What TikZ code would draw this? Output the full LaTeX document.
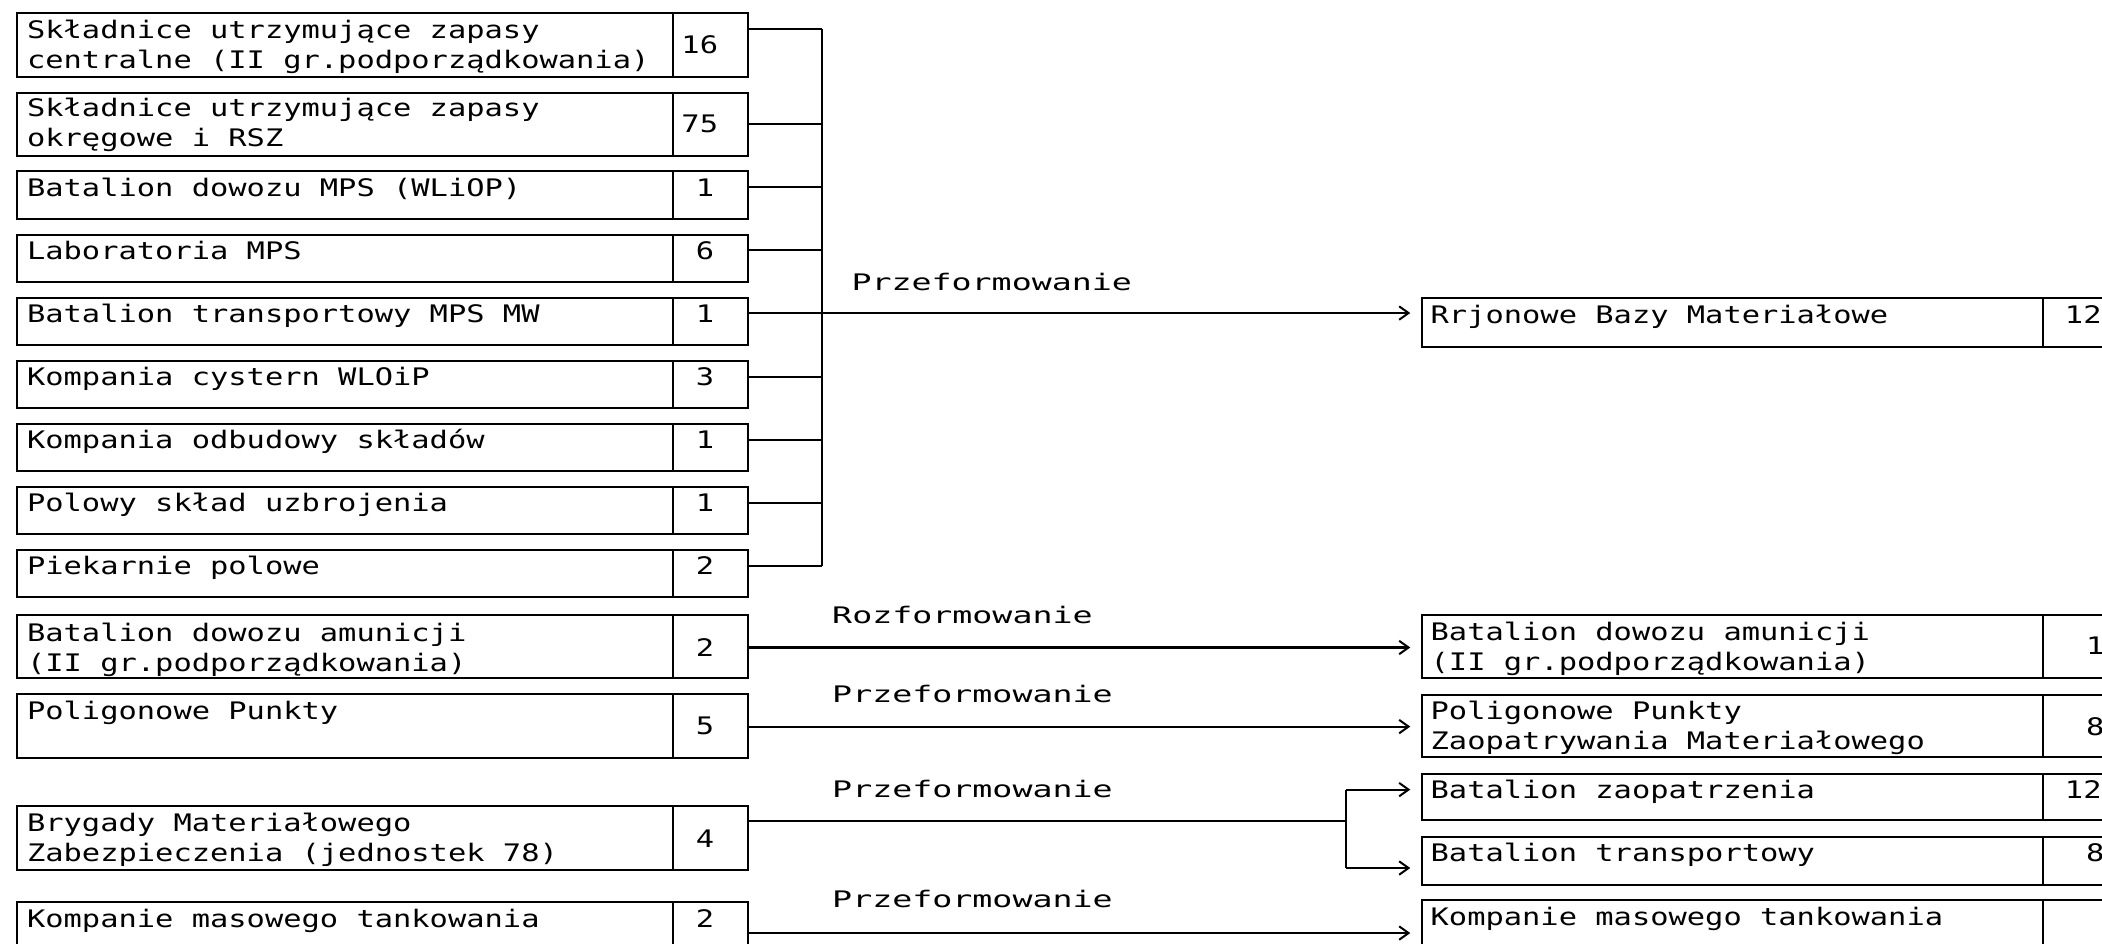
\documentclass[tikz,border=0pt]{standalone}
\usepackage{fontspec}
\usetikzlibrary{arrows.meta}
\newfontfamily\plotfont[FakeStretch=1.26]{DejaVu Sans Mono}
\newfontfamily\plotlab[FakeStretch=1.46]{DejaVu Sans Mono}
\begin{document}
\begin{tikzpicture}[x=1pt,y=-1pt,
  boxpart/.style={draw, line width=1.5pt, rectangle, anchor=north west, inner sep=0pt, outer sep=0pt},
  txt/.style={anchor=base west, inner sep=0pt, align=left, font=\plotfont\fontsize{18}{22.5}\selectfont},
  txtw/.style={txt},
  numtxt/.style={anchor=base, inner sep=0pt, font=\plotfont\fontsize{18}{22.5}\selectfont},
  lab/.style={anchor=base west, inner sep=0pt, font=\plotlab\fontsize{17}{20}\selectfont},
  conn/.style={line width=1.5pt},
  arr/.style={line width=1.5pt, -{Straight Barb[length=7pt,width=10pt,line width=1.5pt]}, shorten >=9pt}
]
\clip (0,0) rectangle (1568,704);
\fill[white] (0,0) rectangle (1568,704);

% ---------- left boxes ----------
\node[boxpart, minimum width=489pt, minimum height=47.5pt] (L1) at (13,10) {};
\node[boxpart, minimum width=56pt, minimum height=47.5pt] (N1) at (502,10) {};
\node[txtw] (T1) at (20,51) {Składnice utrzymujące zapasy\\centralne (II gr.podporządkowania)};
\node[numtxt] (V1) at (522,40) {16};

\node[boxpart, minimum width=489pt, minimum height=47pt] (L2) at (13,69.5) {};
\node[boxpart, minimum width=56pt, minimum height=47pt] (N2) at (502,69.5) {};
\node[txtw] (T2) at (20,109.5) {Składnice utrzymujące zapasy\\okręgowe i RSZ};
\node[numtxt] (V2) at (522,99) {75};

\node[boxpart, minimum width=489pt, minimum height=35.5pt] (L3) at (13,127.5) {};
\node[boxpart, minimum width=56pt, minimum height=35.5pt] (N3) at (502,127.5) {};
\node[txt] (T3) at (20,146.5) {Batalion dowozu MPS (WLiOP)};
\node[numtxt] (V3) at (526,146.5) {1};

\node[boxpart, minimum width=489pt, minimum height=35pt] (L4) at (13,175.5) {};
\node[boxpart, minimum width=56pt, minimum height=35pt] (N4) at (502,175.5) {};
\node[txt] (T4) at (20,193.5) {Laboratoria MPS};
\node[numtxt] (V4) at (526,193.5) {6};

\node[boxpart, minimum width=489pt, minimum height=35pt] (L5) at (13,222.5) {};
\node[boxpart, minimum width=56pt, minimum height=35pt] (N5) at (502,222.5) {};
\node[txt] (T5) at (20,240.5) {Batalion transportowy MPS MW};
\node[numtxt] (V5) at (526,240.5) {1};

\node[boxpart, minimum width=489pt, minimum height=35pt] (L6) at (13,269.5) {};
\node[boxpart, minimum width=56pt, minimum height=35pt] (N6) at (502,269.5) {};
\node[txt] (T6) at (20,287.5) {Kompania cystern WLOiP};
\node[numtxt] (V6) at (526,287.5) {3};

\node[boxpart, minimum width=489pt, minimum height=35pt] (L7) at (13,316.5) {};
\node[boxpart, minimum width=56pt, minimum height=35pt] (N7) at (502,316.5) {};
\node[txt] (T7) at (20,334.5) {Kompania odbudowy składów};
\node[numtxt] (V7) at (526,334.5) {1};

\node[boxpart, minimum width=489pt, minimum height=35pt] (L8) at (13,363.5) {};
\node[boxpart, minimum width=56pt, minimum height=35pt] (N8) at (502,363.5) {};
\node[txt] (T8) at (20,381.5) {Polowy skład uzbrojenia};
\node[numtxt] (V8) at (526,381.5) {1};

\node[boxpart, minimum width=489pt, minimum height=35pt] (L9) at (13,410.5) {};
\node[boxpart, minimum width=56pt, minimum height=35pt] (N9) at (502,410.5) {};
\node[txt] (T9) at (20,428.5) {Piekarnie polowe};
\node[numtxt] (V9) at (526,428.5) {2};

\node[boxpart, minimum width=489pt, minimum height=47pt] (L10) at (13,459) {};
\node[boxpart, minimum width=56pt, minimum height=47pt] (N10) at (502,459) {};
\node[txtw] (T10) at (20,501) {Batalion dowozu amunicji\\(II gr.podporządkowania)};
\node[numtxt] (V10) at (526,490) {2};

\node[boxpart, minimum width=489pt, minimum height=48pt] (L11) at (13,517.5) {};
\node[boxpart, minimum width=56pt, minimum height=48pt] (N11) at (502,517.5) {};
\node[txt] (T11) at (20,536.5) {Poligonowe Punkty};
\node[numtxt] (V11) at (526,548) {5};

\node[boxpart, minimum width=489pt, minimum height=47.5pt] (L12) at (13,601.5) {};
\node[boxpart, minimum width=56pt, minimum height=47.5pt] (N12) at (502,601.5) {};
\node[txtw] (T12) at (20,643) {Brygady Materiałowego\\Zabezpieczenia (jednostek 78)};
\node[numtxt] (V12) at (526,632.5) {4};

\node[boxpart, minimum width=489pt, minimum height=60pt] (L13) at (13,672.5) {};
\node[boxpart, minimum width=56pt, minimum height=60pt] (N13) at (502,672.5) {};
\node[txt] (T13) at (20,691.5) {Kompanie masowego tankowania};
\node[numtxt] (V13) at (526,691.5) {2};

% ---------- right boxes ----------
\node[boxpart, minimum width=463pt, minimum height=36.5pt] (R1) at (1061,222) {};
\node[boxpart, minimum width=90pt, minimum height=36.5pt] (RN1) at (1524,222) {};
\node[txt] (RT1) at (1067,241.5) {Rrjonowe Bazy Materiałowe};
\node[numtxt] (RV1) at (1554,241.5) {12};

\node[boxpart, minimum width=463pt, minimum height=47.5pt] (R2) at (1061,458.5) {};
\node[boxpart, minimum width=90pt, minimum height=47.5pt] (RN2) at (1524,458.5) {};
\node[txtw] (RT2) at (1067,500) {Batalion dowozu amunicji\\(II gr.podporządkowania)};
\node[numtxt] (RV2) at (1563,488.5) {1};

\node[boxpart, minimum width=463pt, minimum height=46.5pt] (R3) at (1061,518.5) {};
\node[boxpart, minimum width=90pt, minimum height=46.5pt] (RN3) at (1524,518.5) {};
\node[txtw] (RT3) at (1067,559) {Poligonowe Punkty\\Zaopatrywania Materiałowego};
\node[numtxt] (RV3) at (1563,548.5) {8};

\node[boxpart, minimum width=463pt, minimum height=34.5pt] (R4) at (1061,577.5) {};
\node[boxpart, minimum width=90pt, minimum height=34.5pt] (RN4) at (1524,577.5) {};
\node[txt] (RT4) at (1067,595.5) {Batalion zaopatrzenia};
\node[numtxt] (RV4) at (1554,595.5) {12};

\node[boxpart, minimum width=463pt, minimum height=35.5pt] (R5) at (1061,624.5) {};
\node[boxpart, minimum width=90pt, minimum height=35.5pt] (RN5) at (1524,624.5) {};
\node[txt] (RT5) at (1067,642.5) {Batalion transportowy};
\node[numtxt] (RV5) at (1563,642.5) {8};

\node[boxpart, minimum width=463pt, minimum height=60pt] (R6) at (1061,671.5) {};
\node[boxpart, minimum width=90pt, minimum height=60pt] (RN6) at (1524,671.5) {};
\node[txt] (RT6) at (1067,690.5) {Kompanie masowego tankowania};

% ---------- labels ----------
\node[lab] (P1) at (635,216.6) {Przeformowanie};
\node[lab] (P2) at (620.6,465) {Rozformowanie};
\node[lab] (P3) at (620.6,524) {Przeformowanie};
\node[lab] (P4) at (620.6,595) {Przeformowanie};
\node[lab] (P5) at (620.6,677) {Przeformowanie};

% ---------- connectors ----------
\coordinate (b1) at (613,21.5);
\coordinate (b2) at (613,92.5);
\coordinate (b3) at (613,139.5);
\coordinate (b4) at (613,186.5);
\coordinate (b5) at (613,233.5);
\coordinate (b6) at (613,281);
\coordinate (b7) at (613,328);
\coordinate (b8) at (613,375);
\coordinate (b9) at (613,422);
\foreach \i in {1,2,3,4,6,7,8,9} {\draw[conn] (N\i.east |- b\i) -- (b\i);}
\draw[conn] (b1) -- (b9);
\draw[arr] (N5.east |- b5) -- (R1.west |- b5);

\coordinate (y10) at (800,483);
\draw[arr] (N10.east |- y10) -- (R2.west |- y10);
\coordinate (y11) at (800,542);
\draw[arr] (N11.east |- y11) -- (R3.west |- y11);

\coordinate (j12) at (1004,612.5);
\coordinate (t4) at (1004,589);
\coordinate (t5) at (1004,647.5);
\draw[conn] (N12.east |- j12) -- (j12);
\draw[conn] (t4) -- (t5);
\draw[arr] (t4) -- (R4.west |- t4);
\draw[arr] (t5) -- (R5.west |- t5);

\coordinate (y13) at (800,696);
\draw[arr] (N13.east |- y13) -- (R6.west |- y13);
\end{tikzpicture}
\end{document}
